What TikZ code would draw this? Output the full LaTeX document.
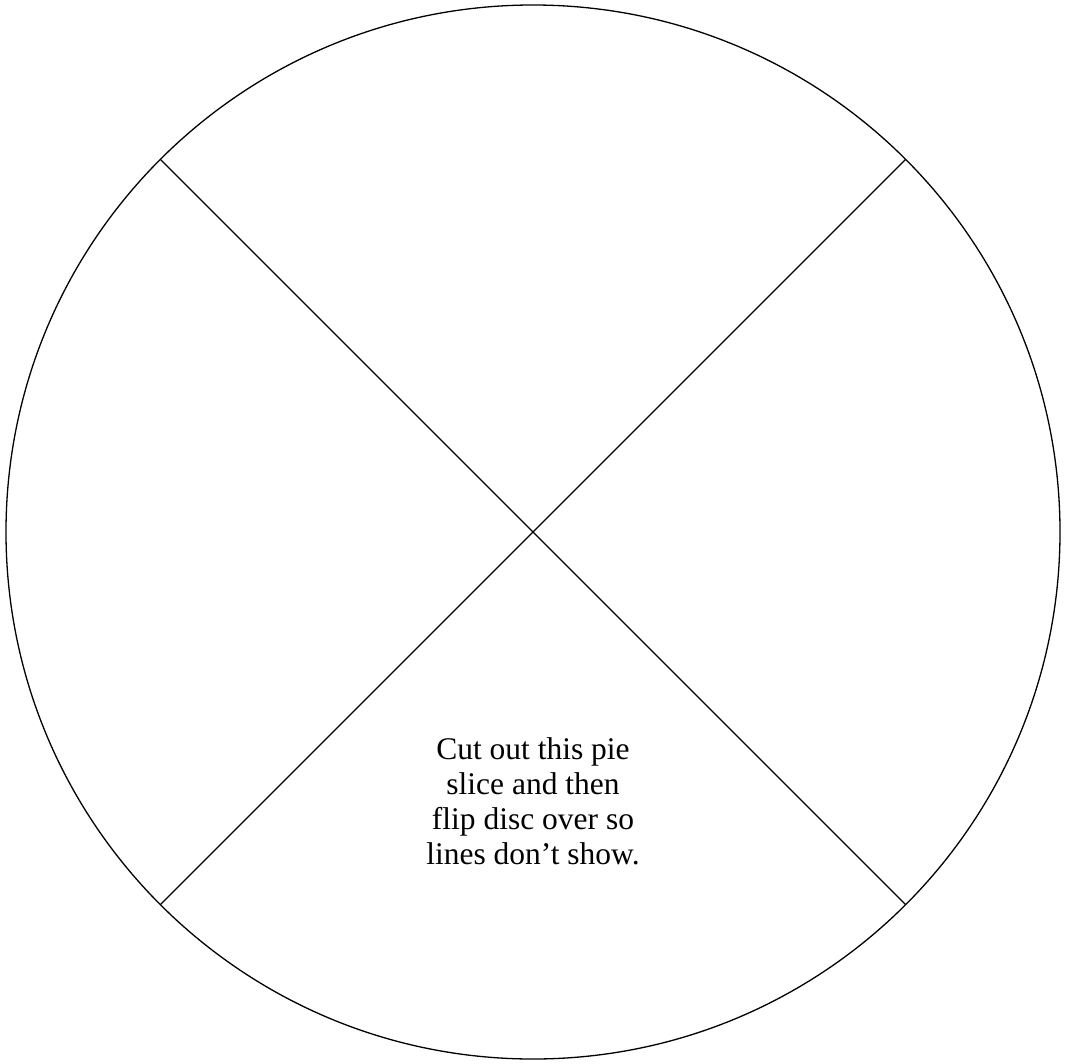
\documentclass[tikz,border=0pt]{standalone}
\usepackage{fontspec}
\setmainfont{Liberation Serif}
\usetikzlibrary{calc}
\begin{document}
\begin{tikzpicture}[x=1pt,y=1pt,
  edge/.style={line width=1.3pt,black},
  note/.style={align=center,font=\fontsize{31.5}{35}\selectfont}]
\useasboundingbox (0,0) rectangle (1065,-1063);
\coordinate (c) at (533,-532);
\draw[edge] (c) circle (527);
\coordinate (nw) at ($(c)+(135:527)$);
\coordinate (ne) at ($(c)+(45:527)$);
\coordinate (sw) at ($(c)+(225:527)$);
\coordinate (se) at ($(c)+(315:527)$);
\draw[edge] (nw) -- (se);
\draw[edge] (ne) -- (sw);
\node[note] (t) at (533,-801) {Cut out this pie\\slice and then\\flip disc over so\\lines don’t show.};
\end{tikzpicture}
\end{document}
